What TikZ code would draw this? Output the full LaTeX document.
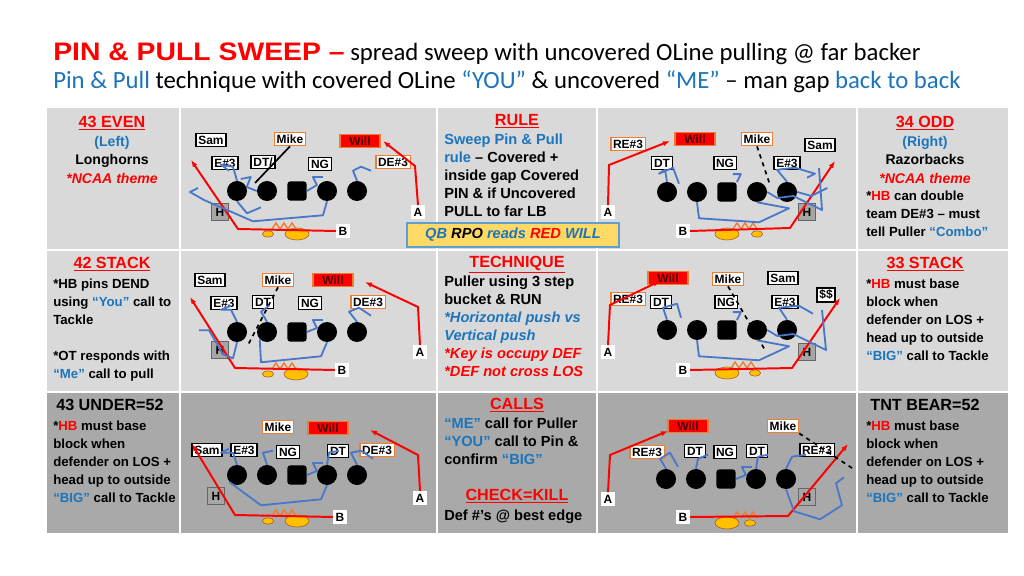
\documentclass[tikz,border=0pt]{standalone}
\usepackage{fontspec}
\setmainfont{Liberation Sans}
\newfontfamily\titlefont{Carlito}
\newfontfamily\heavyfont[FakeStretch=1.12]{Liberation Sans}
\usetikzlibrary{arrows.meta}
\usetikzlibrary{positioning}
\usetikzlibrary{shapes.geometric}
\definecolor{pred}{HTML}{FF0000}
\definecolor{pblue}{HTML}{1C75BC}
\definecolor{porange}{HTML}{ED7D31}
\definecolor{lgray}{HTML}{D9D9D9}
\definecolor{dgray}{HTML}{A9A9A9}
\definecolor{pgold}{HTML}{FFC000}
\definecolor{pblk}{HTML}{4A78C8}
\tikzset{
  pbox/.style={draw=black, fill=white, line width=1pt, inner sep=1.6pt, font=\fontsize{8.5}{9}\selectfont\bfseries},
  obox/.style={pbox, draw=porange},
  wbox/.style={pbox, fill=pred, draw=porange, text=black!70!red, minimum width=1cm},
  lbl/.style={fill=white, inner sep=1.8pt, font=\fontsize{8.5}{9}\selectfont\bfseries},
  lman/.style={circle, fill=black, minimum size=0.5cm, inner sep=0pt},
  cman/.style={rounded corners=2pt, fill=black, minimum size=0.48cm, inner sep=0pt},
  hbox/.style={draw=black!60, fill=gray!70, minimum size=0.42cm, inner sep=0pt, font=\fontsize{8.5}{9}\selectfont\bfseries},
  run/.style={draw=pred, line width=1.4pt, -{Latex[length=5pt]}},
  blk/.style={draw=pblk, line width=1.3pt, line join=round},
  zz/.style={draw=porange, line width=1pt},
  txt/.style={font=\fontsize{9.4}{12.8}\selectfont\bfseries, align=left, anchor=north west, inner sep=0pt},
  mtxt/.style={font=\fontsize{10.4}{12.8}\selectfont\bfseries, align=left, anchor=north west, inner sep=0pt},
  head/.style={font=\fontsize{11.5}{13}\selectfont\bfseries, text=pred, anchor=north, inner sep=0pt},
}
\newcommand{\oline}[3]{%
  \foreach \i/\dx in {1/0,2/30,4/90,5/120} \node[lman] (#1\i) at ({#2+\dx},#3) {};
  \node[cman] (#1c) at ({#2+60},#3) {};}
\newcommand{\ballpair}[4]{%
  \node[ellipse, fill=pgold, draw=porange!70!black, minimum width=0.28cm, minimum height=0.16cm, inner sep=0pt] (#1s) at (#2,#4) {};
  \node[ellipse, fill=pgold, draw=porange!70!black, minimum width=0.6cm, minimum height=0.3cm, inner sep=0pt] (#1b) at (#3,#4) {};}
\newcommand{\zig}[2]{\draw[zz] ({#1-12},#2) -- ++(4,-6) -- ++(4,6) -- ++(4,-6) -- ++(4,6) -- ++(4,-6) -- ++(4,6);}
\begin{document}
\begin{tikzpicture}[x=0.025cm, y=-0.025cm]
\useasboundingbox (0,0) rectangle (1024,576);
\fill[white] (0,0) rectangle (1024,576);
% title
\node[anchor=west, inner sep=0pt, font=\titlefont\fontsize{17.6}{20}\selectfont] (t1) at (53,54)
  {{\heavyfont\fontsize{18}{20}\selectfont\bfseries\color{pred}PIN \& PULL SWEEP –} spread sweep with uncovered OLine pulling @ far backer};
\node[anchor=west, inner sep=0pt, font=\titlefont\fontsize{17.6}{20}\selectfont] (t2) at (53,82)
  {\color{pblue}Pin \& Pull \color{black}technique with covered OLine \color{pblue}“YOU” \color{black}\& uncovered \color{pblue}“ME” \color{black}– man gap \color{pblue}back to back};
% grid
\fill[lgray] (47,108) rectangle (1008,392);
\fill[dgray] (47,392) rectangle (1008,533);
\foreach \x in {180,437,597,857} \draw[white, line width=1.2pt] (\x,108) -- (\x,533);
\foreach \y in {250,392} \draw[white, line width=1.2pt] (47,\y) -- (1008,\y);
% ---------- panel 1: 43 even
\oline{a}{237}{191}
\node[hbox] (aH) at (220,212) {H};
\node[pbox] (aSam) at (211,140) {Sam};
\node[obox] (aMike) at (290,139) {Mike};
\node[wbox] (aWill) at (360,141) {Will};
\node[pbox] (aE) at (225,163) {E\#3};
\node[pbox] (aDT) at (263,162) {DT/};
\node[pbox] (aNG) at (320,164) {NG};
\node[obox] (aDE) at (393,162) {DE\#3};
\node[lbl] (aA) at (418,212) {A};
\node[lbl] (aB) at (343,231) {B};
\ballpair{ab}{268}{297}{234}
\zig{284}{229}
\coordinate (aBt) at (191,160);
\coordinate (aAt) at (383,141);
\draw[run] (aB.west) -- (238,229) -- (aBt);
\draw[run] (aA.north) -- (415,166) -- (aAt);
\draw[black, line width=1.2pt] (aMike.south) -- (255,183);
\draw[blk] (a1.north) -- ++(-4,-14) -- ++(-12,-2) -- ++(8,6);
\draw[blk] (a2.west) -- ++(-10,-4) -- ++(4,-10) -- ++(-10,2);
\draw[blk] (ac.east) -- ++(10,-6) -- ++(-4,-8) -- ++(10,0);
\draw[blk] (a5.north) -- ++(-4,-10) -- ++(8,-4) -- ++(10,4);
\draw[blk] (a4.south) -- ++(-4,14) -- ++(-70,6) -- (204,200) -- ++(-14,-8) -- ++(8,-4);
\draw[blk] (a1.south) -- ++(10,12) -- ++(14,-6);
% ---------- panel 2: 34 odd
\oline{b}{667}{192}
\node[hbox] (bH) at (807,212) {H};
\node[obox] (bRE) at (628,144) {RE\#3};
\node[wbox] (bWill) at (695,139) {Will};
\node[obox] (bMike) at (757,139) {Mike};
\node[pbox] (bSam) at (820,145) {Sam};
\node[pbox] (bDT) at (662,163) {DT};
\node[pbox] (bNG) at (725,163) {NG};
\node[pbox] (bE) at (787,163) {E\#3};
\node[lbl] (bA) at (608,212) {A};
\node[lbl] (bB) at (683,231) {B};
\ballpair{bb}{757}{727}{234}
\zig{745}{229}
\coordinate (bAt) at (670,141);
\coordinate (bBt) at (835,161);
\draw[run] (bA.north) -- (609,165) -- (bAt);
\draw[run] (bB.east) -- (790,228) -- (bBt);
\draw[black, line width=1.2pt, dashed] (bMike.south) -- (770,185);
\draw[blk] (b1.north) -- ++(-2,-12) -- ++(-6,4) -- ++(14,-6) -- ++(6,16);
\draw[blk] (bc.north east) -- ++(4,-8) -- ++(-8,0);
\draw[blk] (b5.north) -- ++(-10,-12) -- ++(18,-2) -- ++(20,6) -- ++(-8,4);
\draw[blk] (b5.east) -- ++(14,4) -- ++(16,-8);
\draw[blk] (b2.south) -- ++(2,16) -- ++(60,4) -- ++(30,-14) -- (b4.south);
\draw[blk] (b4.east) -- ++(10,6) -- ++(16,-2) -- (822,210) -- (819,168);
% ---------- panel 3: 42 stack
\oline{c}{237}{332}
\node[hbox] (cH) at (220,350) {H};
\node[pbox] (cSam) at (210,280) {Sam};
\node[obox] (cMike) at (278,280) {Mike};
\node[wbox] (cWill) at (333,280) {Will};
\node[pbox] (cE) at (224,303) {E\#3};
\node[pbox] (cDT) at (263,302) {DT};
\node[pbox] (cNG) at (310,303) {NG};
\node[obox] (cDE) at (368,302) {DE\#3};
\node[lbl] (cA) at (420,352) {A};
\node[lbl] (cB) at (342,370) {B};
\ballpair{cb}{268}{296}{374}
\zig{284}{369}
\coordinate (cAt) at (365,282);
\coordinate (cBt) at (190,297);
\draw[run] (cA.north) -- (418,307) -- (cAt);
\draw[run] (cB.west) -- (235,368) -- (cBt);
\draw[black, line width=1.2pt, dashed] (cMike.south) -- (248,345);
\draw[blk] (c1.north) -- ++(-6,-12) -- ++(-10,0) -- ++(10,-4);
\draw[blk] (c1.south) -- ++(-4,16) -- ++(-10,-4) -- ++(-14,-24) -- ++(-10,0);
\draw[blk] (c2.north) -- ++(-6,-10) -- ++(8,-6);
\draw[blk] (cc.east) -- ++(10,-4) -- ++(-4,-8) -- ++(10,0);
\draw[blk] (c5.north) -- ++(-8,-10) -- ++(10,-4) -- ++(12,8);
\draw[blk] (c4.south) -- ++(-6,14) -- ++(-60,6) -- (c2.south west);
% ---------- panel 4: 33 stack
\oline{d}{667}{330}
\node[hbox] (dH) at (807,352) {H};
\node[wbox] (dWill) at (668,278) {Will};
\node[obox] (dMike) at (728,279) {Mike};
\node[pbox] (dSam) at (783,278) {Sam};
\node[pbox] (dMon) at (826,295) {\$\$};
\node[obox] (dRE) at (628,299) {RE\#3};
\node[pbox] (dDT) at (661,302) {DT};
\node[pbox] (dNG) at (726,302) {NG};
\node[pbox] (dE) at (785,302) {E\#3};
\node[lbl] (dA) at (608,352) {A};
\node[lbl] (dB) at (683,370) {B};
\ballpair{db}{755}{727}{373}
\zig{743}{368}
\coordinate (dAt) at (660,281);
\coordinate (dBt) at (840,298);
\draw[run] (dA.north) -- (610,305) -- (dAt);
\draw[run] (dB.east) -- (792,368) -- (dBt);
\draw[black, line width=1.2pt, dashed] (dMike.south) -- (765,350);
\draw[blk] (d1.north) -- ++(-4,-12) -- ++(14,-4) -- ++(4,14);
\draw[blk] (dc.north east) -- ++(4,-8) -- ++(-8,0);
\draw[blk] (d5.north) -- ++(-8,-12) -- ++(20,-2) -- ++(14,8);
\draw[blk] (d2.south) -- ++(2,16) -- ++(60,4) -- ++(30,-14) -- (d4.south);
\draw[blk] (d4.east) -- ++(10,6) -- ++(16,-2) -- (826,350) -- (822,310);
% ---------- panel 5: 43 under
\oline{e}{237}{475}
\node[hbox] (eH) at (216,496) {H};
\node[obox] (eMike) at (278,427) {Mike};
\node[wbox] (eWill) at (328,428) {Will};
\node[pbox] (eSam) at (207,450) {Sam};
\node[pbox] (eE) at (244,450) {E\#3};
\node[pbox] (eNG) at (288,452) {NG};
\node[pbox] (eDT) at (338,451) {DT};
\node[obox] (eDE) at (377,450) {DE\#3};
\node[lbl] (eA) at (420,498) {A};
\node[lbl] (eB) at (340,517) {B};
\ballpair{eb}{268}{297}{521}
\zig{284}{516}
\coordinate (eAt) at (370,430);
\coordinate (eBt) at (192,444);
\draw[run] (eA.north) -- (418,455) -- (eAt);
\draw[run] (eB.west) -- (235,515) -- (eBt);
\draw[blk] (e1.north) -- ++(-4,-12) -- ++(-12,0) -- ++(8,-4);
\draw[blk] (e2.north) -- ++(-4,-12) -- ++(10,-2);
\draw[blk] (ec.east) -- ++(10,-4) -- ++(-4,-8) -- ++(10,0);
\draw[blk] (e4.north) -- ++(2,-12) -- ++(10,-2);
\draw[blk] (e5.north) -- ++(-6,-12) -- ++(10,-2) -- ++(12,8);
\draw[blk] (e4.south) -- ++(-6,14) -- ++(-60,6) -- (e1.south west);
% ---------- panel 6: tnt bear
\oline{f}{666}{479}
\node[hbox] (fH) at (807,497) {H};
\node[wbox] (fWill) at (688,426) {Will};
\node[obox] (fMike) at (783,426) {Mike};
\node[obox] (fRE) at (647,452) {RE\#3};
\node[pbox] (fDT) at (695,451) {DT};
\node[pbox] (fNG) at (725,452) {NG};
\node[pbox] (fDT2) at (757,451) {DT};
\node[pbox] (fRE2) at (817,450) {RE\#3};
\node[lbl] (fA) at (608,499) {A};
\node[lbl] (fB) at (683,517) {B};
\ballpair{fb}{750}{727}{523}
\zig{745}{518}
\coordinate (fAt) at (668,431);
\coordinate (fBt) at (848,444);
\draw[run] (fA.north) -- (610,455) -- (fAt);
\draw[run] (fB.east) -- (788,516) -- (fBt);
\draw[black, line width=1.2pt, dashed] (fMike.south east) -- (855,470);
\draw[blk] (f1.north) -- ++(-6,-10) -- ++(10,-6) -- ++(8,14);
\draw[blk] (f2.north) -- ++(2,-10) -- ++(10,-4);
\draw[blk] (fc.east) -- ++(10,-4) -- ++(-4,-8) -- ++(10,0);
\draw[blk] (f4.north) -- ++(2,-12) -- ++(10,-2);
\draw[blk] (f5.north) -- ++(6,-12) -- ++(14,-2);
\draw[blk] (f5.south) -- ++(8,22) -- ++(26,8) -- ++(22,-14) -- ++(-6,-22) -- ++(8,-6);
% ---------- left texts
\node[anchor=north, align=center, inner sep=0pt, font=\fontsize{10}{13.2}\selectfont\bfseries] (l1) at (112,116)
  {\fontsize{11.5}{13}\selectfont\color{pred}\underline{43 EVEN}\\ \color{pblue}\fontsize{10}{13.2}\selectfont(Left)\\ \color{black}Longhorns\\ \color{pred}\itshape *NCAA theme};
\node[head] (l2h) at (112,257) {\underline{42 STACK}};
\node[txt] (l2) at (53,279)
  {*HB pins DEND\\ using \textcolor{pblue}{“You”} call to\\ Tackle\\ \\ *OT responds with\\ \textcolor{pblue}{“Me”} call to pull};
\node[anchor=north west, inner sep=0pt, font=\fontsize{11.5}{13}\selectfont\bfseries] (l3h) at (56,399) {43 UNDER=52};
\node[txt] (l3) at (53,421)
  {*\textcolor{pred}{HB} must base\\ block when\\ defender on LOS +\\ head up to outside\\ \textcolor{pblue}{“BIG”} call to Tackle};
% ---------- right texts
\node[anchor=north, align=center, inner sep=0pt, font=\fontsize{10}{13.2}\selectfont\bfseries] (r1) at (925,116)
  {\fontsize{11.5}{13}\selectfont\color{pred}\underline{34 ODD}\\ \color{pblue}\fontsize{10}{13.2}\selectfont(Right)\\ \color{black}Razorbacks\\ \color{pred}\itshape *NCAA theme};
\node[txt] (r1b) at (866,191)
  {*\textcolor{pred}{HB} can double\\ team DE\#3 – must\\ tell Puller \textcolor{pblue}{“Combo”}};
\node[head] (r2h) at (925,257) {\underline{33 STACK}};
\node[txt] (r2) at (866,279)
  {*\textcolor{pred}{HB} must base\\ block when\\ defender on LOS +\\ head up to outside\\ \textcolor{pblue}{“BIG”} call to Tackle};
\node[anchor=north, inner sep=0pt, font=\fontsize{11.5}{13}\selectfont\bfseries] (r3h) at (925,399) {TNT BEAR=52};
\node[txt] (r3) at (866,421)
  {*\textcolor{pred}{HB} must base\\ block when\\ defender on LOS +\\ head up to outside\\ \textcolor{pblue}{“BIG”} call to Tackle};
% ---------- middle texts
\node[head] (m1h) at (517,114) {\underline{RULE}};
\node[mtxt] (m1) at (444,134)
  {\textcolor{pblue}{Sweep Pin \& Pull}\\ \textcolor{pblue}{rule} – Covered +\\ inside gap Covered\\ PIN \& if Uncovered\\ PULL to far LB};
\node[draw=pblue!70, fill=pgold!60, line width=1pt, minimum width=5.3cm, minimum height=0.6cm, inner sep=0pt,
  font=\fontsize{10.4}{12}\selectfont\bfseries\itshape] (qb) at (513,235)
  {\textcolor{pblue}{QB} RPO \textcolor{pblue}{reads} \textcolor{pred}{RED} \textcolor{pblue}{WILL}};
\node[head] (m2h) at (517,256) {\underline{TECHNIQUE}};
\node[mtxt] (m2) at (444,276)
  {Puller using 3 step\\ bucket \& RUN\\ \textcolor{pblue}{\itshape *Horizontal push vs}\\ \textcolor{pblue}{\itshape Vertical push}\\ \textcolor{pred}{\itshape *Key is occupy DEF}\\ \textcolor{pred}{\itshape *DEF not cross LOS}};
\node[head] (m3h) at (517,398) {\underline{CALLS}};
\node[mtxt] (m3) at (444,418)
  {\textcolor{pblue}{“ME”} call for Puller\\ \textcolor{pblue}{“YOU”} call to Pin \&\\ confirm \textcolor{pblue}{“BIG”}};
\node[head] (m4h) at (517,489) {\underline{CHECK=KILL}};
\node[mtxt] (m4) at (444,510) {Def \#'s @ best edge};
\end{tikzpicture}
\end{document}
